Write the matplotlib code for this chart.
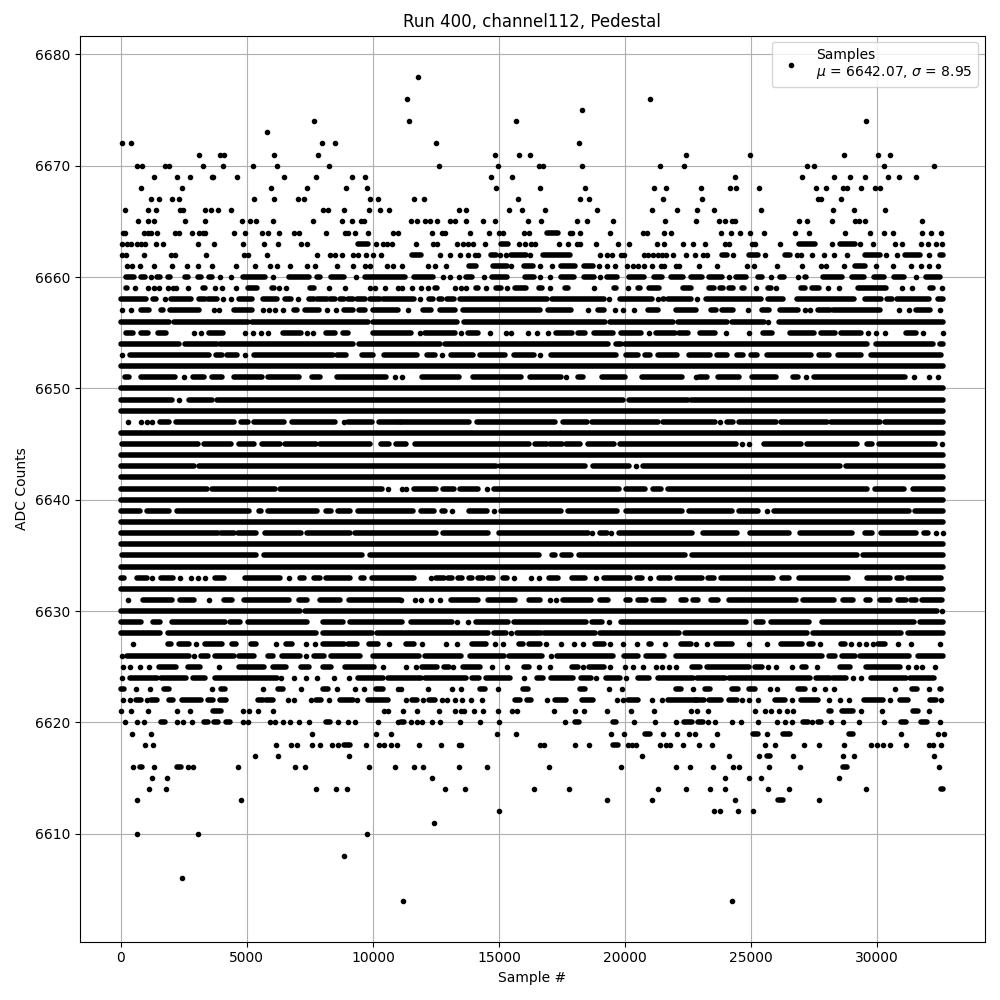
import matplotlib
matplotlib.use("Agg")
import matplotlib.pyplot as plt

# sample numbers, one list per ADC level
# a plain number is one sample, a (start, end) pair is a run of samples too dense to tell apart
row_6678 = [11790]
row_6676 = [11356, 20980]
row_6675 = [18290]
row_6674 = [7647, 11436, 15673, 29553]
row_6673 = [5780]
row_6672 = [66, 423, 7965, 8480, 12505, 18170]
row_6671 = [3083, 3916, 4075, 6060, 7806, 14840, 15790, 16227, 22405, 24960, 28680, 30030, 30500]
row_6670 = [660, 860, 1733, 1892, 3241, 4035, 5226, 6178, 8242, 12624, 14960, 16584, 16742, 18286, 21375, 22326,
            27216, 27494, 30266, 32246]
row_6669 = [1336, 2210, 2725, 3600, 3640, 4590, 6456, 7726, 9155, 9670, 14683, 15514, 24365, 27018, 28286, 28920,
            29513, 30424, 30860, 31533]
row_6668 = [820, 2408, 5940, 7370, 8917, 9750, 14880, 16623, 18405, 21138, 21613, 23019, 24167, 24405, 25316,
            27573, 27970, 28642, 28800, 29355, 29910, 30107]
row_6667 = [1217, 1495, 2011, 2289, 5265, 6060, 7012, 7250, 9870, 10187, 11634, 12030, 15750, 18207, 18564, 21494,
            23058, 27652, 27784, 28563]
row_6666 = [172, 1098, 1376, 2329, 2448, 3320, 3559, 3837, 4353, 8004, 8202, 8838, 9830, 10266, 10623, 13416, 13693,
            15400, 15910, 16821, 18880, 21058, 22048, 22860, 23534, 25395, 28246, 29078, 30305]
row_6665 = [701, 1098, 1336, 2527, 3320, 4789, 5107, 5345, 6020, 7607, 8758, 9155, 9512, 9631, 11500, 11750, 12056,
            12254, 12544, 13060, 13270, 13693, 14366, 14840, 16135, 16663, 18088, 18484, 19514, 21573, 22800,
            23732, 23970, 24246, 24365, 26900, 27216, 28206, 29117, 29276, 29513, 31770]
row_6664 = [93, 172, 939, 1098, 1217, 1455, 2130, 2289, 2805, 3083, 3241, 3320, 4472, 4908, 5583, 5821, 6258, 6853,
            7051, 8123, 8877, 9000, 9274, 9790, 10782, 10980, 12346, 12742, 12861, 13851, 14604, 15000, 15158, 16000,
            16188, (16900, 17336), 17810, 17890, 18207, 19395, 20700, 20860, 21534, 21810, 23810, 24207, 24563, 24960,
            25514, 26741, 27296, 28721, 29711, 30266, 30622, 31770, 32127, 32523]
row_6663 = [66, 265, 423, 660, 820, 979, 1415, 1654, 3043, 3704, 4829, 5662, 6218, 7131, 7370, (9393, 9790), 10107,
            10385, 10544, 10743, 11713, 12386, 12544, 13336, 13570, 13770, 13957, 14445, (15092, 15356), 15790, 16030,
            16254, 16425, 17376, 17732, 18088, 18207, 18841, 19725, 20148, 21256, 21534, 22286, 22682, 23177, 23970,
            24128, 25038, 25157, 26147, (26900, 27533), 28206, (28510, 29104), 29315, 29830, 30700, 30980, 31730,
            32008, 32310, 32575]
row_6662 = [66, 225, 939, 1971, 2130, 3374, 4869, 5027, 5780, 7766, 8282, 8480, 8758, 9195, 9393, 9710, 9988, 10306,
            (11555, 11924), 12663, 13060, 13455, 13770, 14050, 14170, (14700, 14890), 15052, 15277, (15462, 16082),
            16227, (16742, 17798), 19000, 19276, 19474, 19844, 19950, 20740, 20900, 21100, 21296, 21454, 21626, 21890,
            22405, 22760, 23098, 23256, (23850, 24050), 24286, (24920, 25276), 25553, (26330, 26530), 26820, 26966,
            27414, 27890, 28286, 28800, (29500, 30094), 30358, 30780, (31084, 31678), 32048, (32470, 32600)]
row_6661 = [265, 463, 780, 1297, 2011, 2606, 3043, 3600, 4551, 5305, 5900, 6178, 6694, 7370, 7686, 8560, 9195, 9670,
            9870, 10544, 10800, 11160, 12190, 12480, 12900, (13800, 14100), (14760, 15320), 15490, (15980, 16340),
            16620, 17100, (17470, 18000), (18350, 18720), 18960, 19280, 19580, 20070, 20300, 20520, 20740, 21060,
            21430, 21560, 22020, 22130, 22940, 23650, 24840, 25120, 26030, 27020, 27780, 27980, 28670, (29100, 29500),
            29940, 30620, 31350, 31740, 32070, 32400]
row_6660 = [(200, 520), (820, 950), 1190, (1430, 1550), (1860, 1970), (2560, 2680), (3050, 3170), (3480, 3600),
            3950, 4360, (4840, 5720), 6040, (6690, 7450), (7790, 7880), (8320, 8840), 9320, (9670, 11290),
            (11610, 12386), 12770, 13070, 13416, (13680, 13930), 14406, (14736, 15316), (16016, 16400), 16623, 17020,
            (17440, 17957), (18380, 18750), 18986, (19290, 19670), (20148, 20730), (21140, 21450), (21800, 22310),
            (22630, 23060), (23310, 23850), 24128, (24390, 24775), (25250, 25435), 25778, (26134, 26290), 26860,
            (27137, 27190), (27850, 28600), (29010, 29460), (29870, 30250), (30660, 31044), 31546, (31940, 32470)]
row_6659 = [(200, 265), 570, 1060, 1300, 1500, 1855, 2080, 2190, 2650, (3270, 3350), 3720, 4000, 4560, (5035, 5390),
            (5990, 6060), 6270, 6545, (7510, 7645), 8255, 8880, 9885, 10100, 10480, 11000, 11160, 11555, 11910, 12190,
            (12450, 12540), 13244, 13510, 13706, (14076, 14170), 14485, (14894, 15092), 15316, (15633, 16082),
            (16570, 16716), 17020, (17600, 17732), 18760, (19540, 19646), 20120, (20520, 20600), (20940, 21360),
            (22310, 22600), (23340, 23520), (23780, 23900), (24128, 24286), (24616, 24708), 25200, (25670, 25800),
            26000, (26966, 27124), (27414, 27692), 28050, 28470, (29236, 30358), 30990, 31375, (32100, 32206), 32560]
row_6658 = [(0, 1000), (1290, 1400), 1740, (2000, 2800), (3100, 3330), (3450, 3800), 4040, 4370, (4700, 5200),
            (5650, 6200), (6500, 6730), 7020, (7450, 7650), (7780, 8160), (8300, 8500), (8700, 8870), (9000, 9190),
            (9380, 9670), (9900, 10290), (10400, 11640), 11880, (12230, 12400), (12600, 12750), (12950, 13220),
            (13450, 16920), (17100, 19150), 19350, (19800, 21050), 21320, (21500, 21560), (21720, 22620), 22870,
            (23200, 25370), (25670, 26270), (26830, 29070), (29500, 30130), (30400, 30570), (30800, 32050),
            (32400, 32600)]
row_6657 = [30, 410, (800, 1100), (1600, 1680), (1950, 3100), 3680, 3910, (4500, 5200), 5630, 5880, 6100, 6430,
            (6880, 7000), (7300, 7850), 8180, 8550, (8850, 9200), (9450, 9700), (10000, 11000), 11400, (11990, 12320),
            (12650, 13244), (13574, 16610), (16940, 17860), 18524, (18920, 19180), 19580, 19910, 20370,
            (20900, 21300), (22020, 22810), (23400, 23600), (23840, 24286), 24880, (25420, 25700), (26134, 26860),
            27124, 27322, (27650, 28110), (28250, 30090), 30860, 31245, (31550, 32080), 32470]
row_6656 = [(0, 1900), (2090, 5050), (5190, 9800), (10000, 13330), (13620, 19200), (19400, 21900), (22100, 24050),
            (24250, 25500), 25680, (26090, 32620)]
row_6655 = [(200, 470), (800, 1060), (1460, 1790), 2890, 3180, (3510, 4070), 4920, 5230, 5570, 5830, (6450, 7160),
            7380, 7620, (8150, 8480), (8810, 9010), (10000, 11500), 11860, (12060, 13244), 13510, (13770, 14170),
            14630, 15290, 15490, 16150, 16500, 16940, (17270, 17900), (18140, 18400), (18750, 19520), (19850, 20640),
            20940, (21230, 21960), (22150, 22480), (22970, 23560), 24000, 24920, (25450, 25840), (26530, 27480),
            (27784, 28310), (28580, 29370), 29630, 29940, 30290, (31125, 31546), 31810, 32600]
row_6654 = [(0, 2300), (2560, 3800), (3950, 9210), (9450, 12670), (12870, 19340), (19620, 19830), (20000, 29590),
            (29950, 32190), (32470, 32620)]
row_6653 = [30, (370, 3500), (3780, 4020), (4230, 4600), 4930, (5270, 8400), (8580, 8950), (9550, 10000),
            (10450, 11760), (12150, 12480), 12740, (13090, 13950), (14240, 15240), (15600, 16400), 16623,
            (17050, 19650), (20030, 20530), (20800, 20980), (21300, 22070), (22540, 23370), (23660, 24050),
            (24440, 24680), (25000, 25230), (25610, 27360), (27690, 28070), (28430, 29350), (29740, 32520)]
row_6652 = [(0, 32620)]
row_6651 = [(170, 340), (810, 2150), 2500, (2850, 3300), (3620, 4000), (4470, 5600), (5850, 7070), (7570, 7880),
            (8580, 10500), 10860, 11160, (11950, 13400), (13950, 15880), (16230, 17440), 17660, (18150, 18340),
            (19100, 20000), (20660, 22260), 22800, (22940, 23260), (23680, 24520), (25050, 25970), (26640, 26850),
            27180, (27500, 31100), 31450, 32070, 32400]
row_6650 = [(0, 32610)]
row_6649 = [(0, 2020), 2300, (2700, 3630), (3830, 19920), (20170, 22480), (22600, 32620)]
row_6648 = [(0, 32620)]
row_6647 = [300, 800, 1030, 1230, (1540, 1900), (2200, 4500), (4750, 5050), (5280, 6480), (6800, 8500), 8840,
            (9000, 9950), (10250, 11060), (11130, 13800), (14110, 17200), (17540, 18500), (18700, 21300),
            (21500, 23570), 23760, (24050, 24260), (24500, 26000), (26180, 28000), (28150, 30100), (30290, 32620)]
row_6646 = [(0, 32620)]
row_6645 = [(30, 3050), (3300, 4360), (4700, 5300), (5600, 6330), (6530, 7750), (7900, 9900), (10300, 10650),
            (10900, 11300), (11650, 16200), (16440, 16900), (17040, 17480), (17650, 18200), (18540, 19540),
            (19800, 24380), 24620, 24920, (25510, 26970), (27200, 29200), (29610, 29800), (30060, 32270), 32560]
row_6644 = [(0, 32610)]
row_6643 = [(0, 2900), (3120, 14870), (15050, 18420), (18720, 20140), 20430, (20720, 28510), (28750, 32620)]
row_6642 = [(0, 32620)]
row_6641 = [(0, 3400), (3620, 6120), (6300, 10350), 10590, 11150, 11310, (11630, 12500), (12790, 13230),
            (13470, 14170), 14510, (14810, 19770), (20040, 20800), (21100, 21440), (21700, 29580), (29900, 31050),
            (31410, 32620)]
row_6640 = [(0, 32620)]
row_6639 = [(0, 750), (1030, 1900), (2220, 5100), (5470, 5550), (5850, 7800), (8150, 8350), (8600, 9100),
            (9400, 11600), (11900, 12430), (12730, 12850), 13150, (13800, 14540), 14790, (15090, 17450),
            (17750, 19660), (20020, 22270), (22520, 24250), (24520, 25260), 25610, (25900, 31240), (31500, 32620)]
row_6638 = [(0, 32620)]
row_6637 = [(0, 3850), (3970, 4500), (4650, 5350), (5700, 7150), (7400, 9100), (9300, 12490), (12790, 14550),
            (15000, 18530), 18700, (19000, 19300), 19450, (19750, 22660), (23080, 24420), (24950, 26500),
            (26930, 29000), (29530, 29800), (30140, 31530), (31850, 32000), 32310, 32600]
row_6636 = [(0, 32620)]
row_6635 = [(30, 5350), (5670, 9550), (9870, 16600), (17100, 17230), (17500, 17840), (18170, 22390), (22640, 29200),
            (29430, 32620)]
row_6634 = [(0, 32610)]
row_6633 = [(0, 120), (650, 1050), 1220, (1600, 2080), 2350, 2780, 3070, 3350, (3740, 4090), (4930, 6320), 6690,
            (7120, 7250), (7650, 7880), (8130, 9100), (9520, 9650), (9960, 11620), 12320, (12500, 12800),
            (12960, 13140), (13370, 13540), (13810, 13940), (14170, 14370), (14570, 14750), (15150, 15320), 15590,
            16280, 16580, (16980, 17350), (17900, 18400), 18854, (19170, 20200), (20480, 20660), 20970,
            (21350, 21760), (22050, 23040), (23300, 23520), (23790, 25850), (26230, 26500), (26880, 28840),
            (29600, 30520), (30800, 30980), (31200, 32530)]
row_6632 = [(0, 32610)]
row_6631 = [300, (890, 2050), (2340, 2900), 3490, (4090, 4400), (4880, 6660), (7050, 7400), (7900, 8700),
            (9050, 11060), 11130, 11660, 11920, 12320, 12650, (13110, 14170), (14580, 15620), (16190, 16610), 17010,
            17270, (17540, 18630), (19000, 19320), (20040, 20180), (20530, 20840), (21100, 21560), (22220, 22420),
            (22680, 22880), (23400, 23690), (24130, 26790), (27060, 28300), (28650, 29020), (29550, 29730),
            (30090, 30500), (30840, 31120), (31350, 31550), (31790, 32560)]
row_6630 = [(0, 7100), (7300, 32380), 32560]
row_6629 = [(0, 800), (1280, 1560), (2040, 4130), (4350, 4740), (5060, 7390), (8000, 8800), (9100, 11150),
            (11500, 13120), 13340, 13770, (14100, 15370), (15600, 18450), (18700, 19100), 19380, (19850, 24780),
            (25200, 25450), (25800, 27300), (27800, 31450), (31700, 32600)]
row_6628 = [(0, 1560), (1880, 7750), (8010, 9950), (10170, 14560), (14790, 15270), 15490, (15700, 16650),
            (16800, 18820), (19000, 22130), (22360, 27210), (27460, 30960), (31220, 32620)]
row_6627 = [500, (1860, 2000), (2320, 2700), 3000, (3350, 4000), (4420, 4550), (5170, 5380), 6160, (6560, 6780), 7350,
            7700, (8020, 8870), (9000, 9380), (9850, 10180), 10640, (11300, 11640), 11930, 12910, 13340,
            (13940, 14500), 14850, 15160, (15800, 15950), (16200, 16610), 16870, 17470, 17970, 18330, (18800, 19150),
            19400, 19910, 20470, (20950, 21030), 21600, (22200, 22620), 22810, 23230, (23600, 24220), 24920, 25630,
            (26190, 27000), (27290, 27450), 27720, (28560, 28710), 28970, 29280, 29570, 29830, (30030, 30290), 30820,
            31350, 32470]
row_6626 = [30, (250, 2700), 2900, (3200, 3450), (3750, 4500), (4700, 5300), (5850, 6050), (6400, 7100), 7360,
            (7650, 8050), (8350, 9500), (10000, 11830), (12060, 13500), (13830, 15200), (15400, 16700), 17070,
            (17300, 19500), (19950, 20500), (20820, 21550), (22000, 27800), (28100, 28330), (28620, 29120),
            (29300, 31250), (31600, 32620)]
row_6625 = [70, 360, 750, 1100, (1500, 2200), (2660, 3150), 3900, (4700, 5660), (6050, 6550), (7150, 7450),
            (8030, 8350), (8900, 10050), 10400, 11300, 11700, (11960, 12520), (12800, 13000), 13180, (13580, 14230),
            14740, 15320, (16000, 16180), 16580, 17040, (17900, 18150), 18330, (18550, 19150), 19400, 20000, 20300,
            20700, 21230, 21450, 21730, 22020, (22660, 22950), (23240, 24900), (25150, 25410), 25670, 26000, 26600,
            (27000, 27190), 27610, (28510, 28900), (29570, 30890), 31215, 31550, 31780, 32300]
row_6624 = [30, (350, 1450), (1600, 2580), (2850, 3350), (3750, 6200), 6360, 6880, 7350, 7800, 8450, 9050,
            (9400, 10400), (10600, 11900), (12060, 13700), (13930, 14220), (14480, 15420), 16000, (16500, 16750),
            (17080, 17930), (18270, 18650), 18850, (19250, 19780), 20040, (20510, 20960), (21300, 22680),
            (22850, 23960), (24100, 27350), (27570, 28110), (28250, 28760), 29040, 29370, (29770, 31150),
            (31280, 32250)]
row_6623 = [(0, 120), 620, 1150, (1720, 1920), 3600, (3980, 4130), 5630, (6230, 6430), 7140, (8020, 8220), 8570, 9290,
            9650, (10110, 10380), 11000, 11130, 12190, 13140, 13500, (14240, 14430), 14960, (15950, 16150),
            (18200, 18390), 19360, 19870, (22030, 22220), 22700, (23170, 23360), (24220, 24460), (24920, 25170),
            25740, 26030, (26860, 27120), 27480, 27920, 28280, 30720, (31390, 31570), 32070, (32470, 32520)]
row_6622 = [70, 360, (600, 800), 1020, (1200, 1450), (1900, 2080), (2430, 3170), (3440, 3640), (3940, 4170),
            (5430, 5630), (5760, 6030), 6620, 6860, 7550, (7750, 7950), 8250, (8700, 9200), 9370, (9800, 10600), 11300,
            (11530, 11730), 11990, (12230, 12450), 12720, 12940, 13260, 13530, 13890, 14340, (15620, 15820),
            (16110, 16280), 16910, (17200, 17670), (18290, 18720), 19670, 19910, (20110, 20500), 21060, 21450,
            (21700, 22800), (22830, 23120), (23340, 23820), (24130, 24420), 24640, 24920, 25250, (25940, 26330), 26600,
            (26970, 27650), 28090, 28540, 28880, (29460, 30220), 30490, (30890, 31210), (32100, 32310), 32540]
row_6621 = [0, 400, 1060, 2210, 2730, (3640, 3980), 4840, 5070, 5430, 6030, 10430, 10600, 11200, 11750, 12620, 13260,
            13510, 13600, 14010, 14370, 14960, 15510, 15720, 17180, 18010, 18370, 19280, 20230, 21140, 22620, 22840,
            23300, 25160, 25550, 25800, 26110, 26400, 26660, (28100, 28180), (28600, 29040), 29370, 30190,
            (31420, 31610), 32050]
row_6620 = [150, 660, 930, (1590, 1760), 2210, 2450, 2820, (3310, 3440), (3710, 3840), (4170, 4330), 4860, 5060, 5920,
            6120, 6430, 6700, 7060, 7460, (8150, 8310), 8610, 9010, 9290, 10200, 11000, (11100, 11250), 11500, 11730,
            11950, 12350, 12660, 13440, 14250, 15000, 17610, (18020, 18190), (19510, 19620), 20350, 21180, 22020,
            (22350, 22640), (22900, 23100), 23300, 23560, 24250, 24600, 25280, 26030, 26360, 26620, (27060, 27260),
            27430, (27650, 27780), 28180, 28640, 29280, 30270, (30950, 31150), (31750, 31970), 32500]
row_6619 = [460, 1180, 7580, 10120, 10730, 14920, 15670, 19430, 19950, (20770, 20970), 21490, 22050, 22550, 22790,
            23650, (25080, 25280), 25610, (26270, 26530), (28870, 29040), 30940, 32400, 32640]
row_6618 = [950, 1280, 6150, 6750, 6980, 7580, 7900, 8380, 8610, (8850, 9100), 9720, 10240, 10440, 10730, 10970, 11830,
            12700, 13420, 13510, 16610, 16780, 18010, 18560, (19510, 19710), 20110, 20270, 20440, 21390, 21630, 21790,
            22290, 22920, 23450, 25550, 25950, 27100, 27690, 28680, 29750, 29990, 30230, 30500, 31140, 32050, 32210,
            32520]
row_6617 = [5310, 6230, 9050, 20660, 24130, 25320, (25640, 25740), 26660, 28640, 29080, 32250]
row_6616 = [500, (760, 860), 1300, (2210, 2380), 2650, 2850, 4640, 6900, 7300, 9840, 10880, 11630, 11990, 13416, 14520,
            16980, 19830, 22010, 22560, 23490, 24290, 24520, 25710, 26940, (28640, 28800), 32440]
row_6615 = [1220, 1820, 12350, 23970, 24920, 25390, 28480]
row_6614 = [1100, 1780, 7740, 8540, 8970, 12860, 13650, 16380, 17770, 21300, 22400, 23370, 23970, 25670, 26500, 29550,
            (32510, 32600)]
row_6613 = [660, 4760, 19280, 21060, 24360, (26070, 26270), 27690]
row_6612 = [15000, 23530, 23770, 24480, 25080]
row_6611 = [12420]
row_6610 = [660, 3050, 9760]
row_6608 = [8850]
row_6606 = [2410]
row_6604 = [11200, 24250]

levels = [6678, 6676, 6675, 6674, 6673, 6672, 6671, 6670, 6669, 6668, 6667, 6666, 6665, 6664, 6663, 6662, 6661, 6660,
          6659, 6658, 6657, 6656, 6655, 6654, 6653, 6652, 6651, 6650, 6649, 6648, 6647, 6646, 6645, 6644, 6643, 6642,
          6641, 6640, 6639, 6638, 6637, 6636, 6635, 6634, 6633, 6632, 6631, 6630, 6629, 6628, 6627, 6626, 6625, 6624,
          6623, 6622, 6621, 6620, 6619, 6618, 6617, 6616, 6615, 6614, 6613, 6612, 6611, 6610, 6608, 6606, 6604]
rows = [row_6678, row_6676, row_6675, row_6674, row_6673, row_6672, row_6671, row_6670, row_6669, row_6668, row_6667,
        row_6666, row_6665, row_6664, row_6663, row_6662, row_6661, row_6660, row_6659, row_6658, row_6657, row_6656,
        row_6655, row_6654, row_6653, row_6652, row_6651, row_6650, row_6649, row_6648, row_6647, row_6646, row_6645,
        row_6644, row_6643, row_6642, row_6641, row_6640, row_6639, row_6638, row_6637, row_6636, row_6635, row_6634,
        row_6633, row_6632, row_6631, row_6630, row_6629, row_6628, row_6627, row_6626, row_6625, row_6624, row_6623,
        row_6622, row_6621, row_6620, row_6619, row_6618, row_6617, row_6616, row_6615, row_6614, row_6613, row_6612,
        row_6611, row_6610, row_6608, row_6606, row_6604]

fig, ax = plt.subplots(figsize=(10, 10), dpi=100)

for level, row in zip(levels, rows):
    samples = [s for s in row if not isinstance(s, tuple)]
    runs = [s for s in row if isinstance(s, tuple)]
    ax.plot(samples, [level] * len(samples), 'k.')
    for start, end in runs:
        ax.plot([start, end], [level, level], color='k', lw=4, solid_capstyle='round')

ax.plot([], [], 'k.', label='Samples\n$\\mu$ = 6642.07, $\\sigma$ = 8.95')

ax.set_title('Run 400, channel112, Pedestal')
ax.set_xlabel('Sample #')
ax.set_ylabel('ADC Counts')
ax.grid(True)
ax.legend(loc='upper right')

fig.tight_layout()
fig.subplots_adjust(top=0.9645)
fig.savefig('out.png', dpi=100)
